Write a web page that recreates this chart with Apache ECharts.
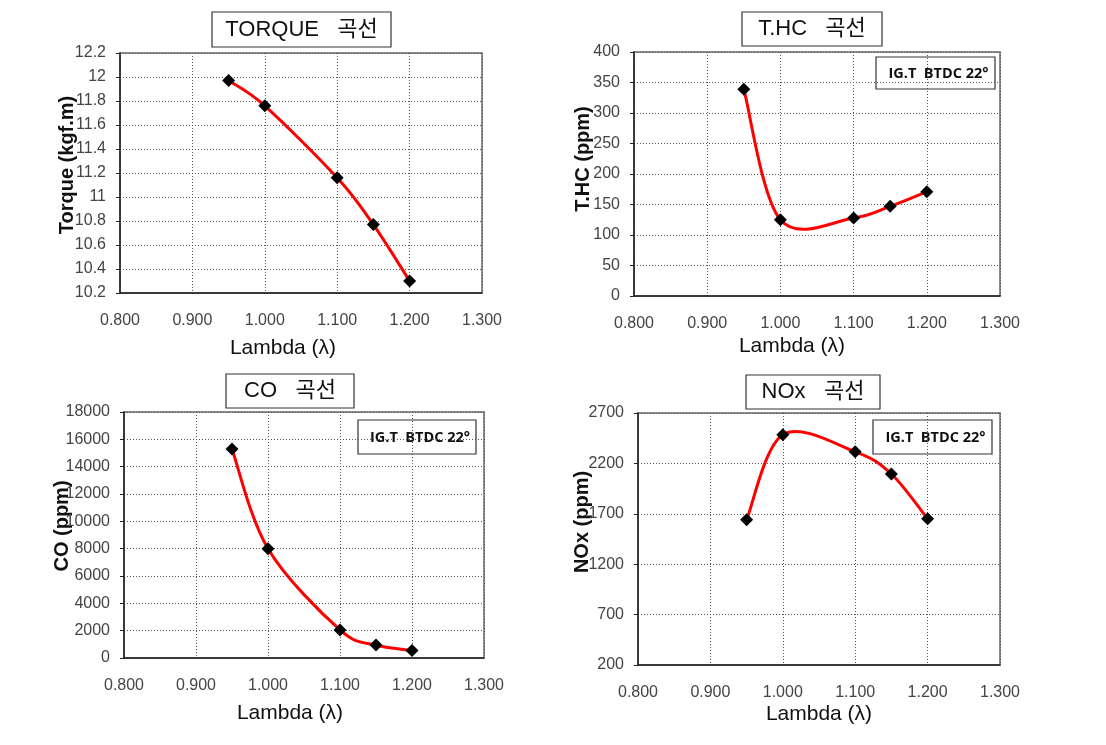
<!DOCTYPE html>
<html><head><meta charset="utf-8">
<script src="https://cdn.jsdelivr.net/npm/echarts@6/dist/echarts.min.js"></script>
<style>html,body{margin:0;padding:0;background:#fff}#c{width:1106px;height:745px}</style>
</head><body><div id="c"></div>
<script>
// ---- data ----
const lambda = [0.95, 1.0, 1.1, 1.15, 1.2];
const torque = [11.97, 11.76, 11.16, 10.77, 10.30];
const thc    = [339, 125, 128, 147, 171];
const co     = [15300, 8000, 2050, 950, 550];
const nox    = [1640, 2485, 2315, 2095, 1650];

const chartTitles = ['TORQUE   곡선', 'T.HC   곡선', 'CO   곡선', 'NOx   곡선'];
const yNames = ['Torque (kgf.m)', 'T.HC (ppm)', 'CO (ppm)', 'NOx (ppm)'];
const xName = 'Lambda (λ)';
const note = 'IG.T  BTDC 22°';

const xMin = 0.8, xMax = 1.3, xStep = 0.1;
const yMins  = [10.2, 0, 0, 200];
const yMaxs  = [12.2, 400, 18000, 2700];
const ySteps = [0.2, 50, 2000, 500];
const seriesValues = [torque, thc, co, nox];

// ---- layout (styles only) ----
const grids = [
  {left: 120, top: 53, width: 362, height: 240},
  {left: 634, top: 52, width: 366, height: 244},
  {left: 124, top: 412, width: 360, height: 246},
  {left: 638, top: 413, width: 362, height: 252}
];
const yNameGap = [43, 41, 52, 46];
const yNameShift = [16, 30, 18, 34];
const xNameGap = [45, 40, 45, 39];
const xNameShift = [36, 50, 28, 0];
const titleBoxes = [
  {x: 212, y: 12, w: 179, h: 35},
  {x: 742, y: 12, w: 140, h: 34},
  {x: 226, y: 374, w: 128, h: 34},
  {x: 746, y: 375, w: 134, h: 34}
];
const noteBoxes = [null,
  {x: 876, y: 57, w: 119, h: 32},
  {x: 358, y: 420, w: 118, h: 34},
  {x: 873, y: 420, w: 119, h: 34}
];

const FONT = "'Liberation Sans', Arial, 'Noto Sans CJK KR', sans-serif";
const lineDot = {color: '#555', type: [1, 2], width: 1};

// Excel-style smoothed line through the data points (Catmull-Rom bezier), positioned via api.coord
function smoothRender(xs, ys) {
  return function (params, api) {
    if (params.dataIndex !== 0) return null;
    const P = xs.map((x, k) => api.coord([x, ys[k]]));
    const n = P.length;
    const children = [];
    for (let k = 0; k < n - 1; k++) {
      const p0 = P[Math.max(k - 1, 0)], p1 = P[k], p2 = P[k + 1], p3 = P[Math.min(k + 2, n - 1)];
      children.push({
        type: 'bezierCurve',
        shape: {
          x1: p1[0], y1: p1[1], x2: p2[0], y2: p2[1],
          cpx1: p1[0] + (p2[0] - p0[0]) / 6, cpy1: p1[1] + (p2[1] - p0[1]) / 6,
          cpx2: p2[0] - (p3[0] - p1[0]) / 6, cpy2: p2[1] - (p3[1] - p1[1]) / 6
        },
        style: {stroke: '#ff0000', lineWidth: 3, fill: null, lineCap: 'round'}
      });
    }
    return {type: 'group', children: children};
  };
}

const series = [];
seriesValues.forEach((vals, i) => {
  const pts = lambda.map((x, k) => [x, vals[k]]);
  series.push({
    type: 'custom', xAxisIndex: i, yAxisIndex: i, data: pts,
    encode: {x: 0, y: 1}, renderItem: smoothRender(lambda, vals), z: 3, silent: true
  });
  series.push({
    type: 'scatter', xAxisIndex: i, yAxisIndex: i, data: pts,
    symbol: 'diamond', symbolSize: 13, itemStyle: {color: '#000', opacity: 1}, z: 4
  });
});

const option = {
  backgroundColor: '#fff',
  animation: false,
  grid: grids.map(g => Object.assign({show: true, borderColor: '#666', borderWidth: 1.5, backgroundColor: 'transparent'}, g)),
  xAxis: grids.map((g, i) => ({
    type: 'value', gridIndex: i, min: xMin, max: xMax, interval: xStep,
    name: xName, nameLocation: 'middle', nameGap: xNameGap[i], nameMoveOverlap: false,
    nameTextStyle: {fontFamily: FONT, fontSize: 21, color: '#111', padding: [0, xNameShift[i], 0, 0]},
    axisLine: {show: true, onZero: false, lineStyle: {color: '#222', width: 1.5}},
    axisTick: {show: false},
    axisLabel: {fontFamily: FONT, fontSize: 16, color: '#444', margin: 20,
      formatter: v => v.toFixed(3)},
    splitLine: {show: true, lineStyle: lineDot}
  })),
  yAxis: grids.map((g, i) => ({
    type: 'value', gridIndex: i, min: yMins[i], max: yMaxs[i], interval: ySteps[i],
    name: yNames[i], nameLocation: 'middle', nameGap: yNameGap[i], nameMoveOverlap: false,
    nameTextStyle: {fontFamily: FONT, fontSize: 20, fontWeight: 'bold', color: '#111', padding: [0, 0, 0, yNameShift[i]]},
    axisLine: {show: true, onZero: false, lineStyle: {color: '#222', width: 1.5}},
    axisTick: {show: true, inside: false, length: 4, lineStyle: {color: '#222'}},
    axisLabel: {fontFamily: FONT, fontSize: 16, color: '#444', margin: 14,
      formatter: v => String(v)},
    splitLine: {show: true, lineStyle: lineDot}
  })),
  series: series,
  graphic: []
};

titleBoxes.forEach((b, i) => {
  option.graphic.push({
    type: 'group', x: b.x, y: b.y, z: 10,
    children: [
      {type: 'rect', shape: {x: 0, y: 0, width: b.w, height: b.h},
       style: {fill: '#fff', stroke: '#333', lineWidth: 1.2}},
      {type: 'text', x: b.w / 2, y: b.h / 2,
       style: {text: chartTitles[i], fontFamily: FONT, fontSize: 22, fill: '#111',
               align: 'center', verticalAlign: 'middle'}}
    ]
  });
});
noteBoxes.forEach(b => {
  if (!b) return;
  option.graphic.push({
    type: 'group', x: b.x, y: b.y, z: 10,
    children: [
      {type: 'rect', shape: {x: 0, y: 0, width: b.w, height: b.h},
       style: {fill: '#fff', stroke: '#333', lineWidth: 1.2}},
      {type: 'text', x: b.w / 2 + 3, y: b.h / 2 + 1,
       style: {text: note, fontFamily: "'Open Sans', sans-serif", fontSize: 14.5, fontWeight: 'bold', fill: '#111',
               align: 'center', verticalAlign: 'middle'}}
    ]
  });
});

const chart = echarts.init(document.getElementById('c'), null, {renderer: 'canvas'});
chart.setOption(option);
</script>
</body></html>
